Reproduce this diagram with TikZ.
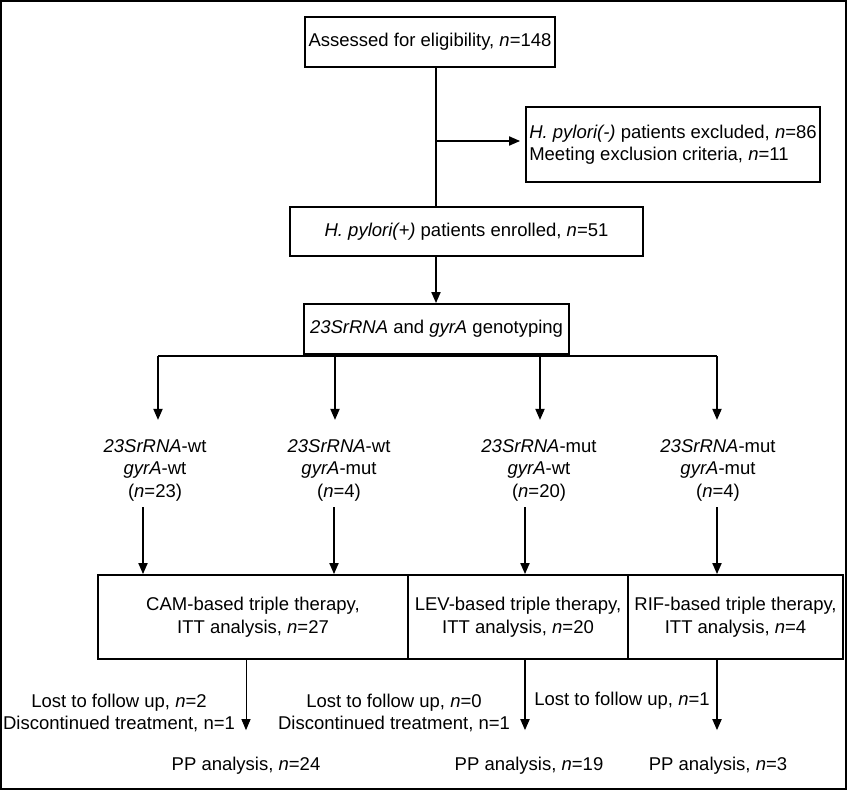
\documentclass[tikz,border=0pt]{standalone}
\usepackage{fontspec}
\setmainfont{Liberation Sans}
\usetikzlibrary{positioning,calc,arrows.meta}
\tikzset{font=\fontsize{18.5}{22.5}\selectfont}
\tikzset{box/.style={draw, line width=1.8pt, inner sep=0pt, align=center},
	line/.style={line width=1.8pt},
	arr/.style={line width=1.8pt, -{Triangle[length=11pt,width=9pt]}}}

\begin{document}
\begin{tikzpicture}[x=1pt,y=-1pt]
	\useasboundingbox (0,0) rectangle (847,790);
	\draw[line width=1.6pt] (0.8,0.8) rectangle (846.2,789.2);
	\begin{scope}
		\tikzstyle{every node}=[align=center, inner sep=1pt]
		\node[box, minimum width=250pt, minimum height=50pt] (assess) at (430,42) {Assessed for eligibility, \textit{n}=148};
		\node[box, align=left, minimum width=294pt, minimum height=75pt] (excl) at (673,144.5) {\textit{H. pylori(-)} patients excluded, \textit{n}=86\\Meeting exclusion criteria, \textit{n}=11};
		\node[box, minimum width=353pt, minimum height=49pt] (enrol) at (466.5,231.5) {\textit{H. pylori(+)} patients enrolled, \textit{n}=51};
		\node[box, minimum width=265pt, minimum height=50pt] (geno) at (436.5,329) {\textit{23SrRNA} and \textit{gyrA} genotyping};

		\node (g1) at (155,470) {\textit{23SrRNA}-wt\\\textit{gyrA}-wt\\(\textit{n}=23)};
		\node (g2) at (339,470) {\textit{23SrRNA}-wt\\\textit{gyrA}-mut\\(\textit{n}=4)};
		\node (g3) at (539,470) {\textit{23SrRNA}-mut\\\textit{gyrA}-wt\\(\textit{n}=20)};
		\node (g4) at (718,470) {\textit{23SrRNA}-mut\\\textit{gyrA}-mut\\(\textit{n}=4)};

		\node[box, minimum width=310pt, minimum height=84pt] (cam) at (253,617) {CAM-based triple therapy,\\ITT analysis, \textit{n}=27};
		\node[box, minimum width=220pt, minimum height=84pt] (lev) at (518,617) {LEV-based triple therapy,\\ITT analysis, \textit{n}=20};
		\node[box, minimum width=215pt, minimum height=84pt] (rif) at (735.5,617) {RIF-based triple therapy,\\ITT analysis, \textit{n}=4};

		\node (lost1) at (119,713) {Lost to follow up, \textit{n}=2\\Discontinued treatment, n=1};
		\node (lost2) at (394,713) {Lost to follow up, \textit{n}=0\\Discontinued treatment, n=1};
		\node (lost3) at (622,701) {Lost to follow up, \textit{n}=1};

		\node (pp1) at (246,766) {PP analysis, \textit{n}=24};
		\node (pp2) at (529,766) {PP analysis, \textit{n}=19};
		\node (pp3) at (718,766) {PP analysis, \textit{n}=3};

		% trunk
		\coordinate (split) at (436,141);
		\draw[line] (assess.south -| split) -- (split) -- (enrol.north -| split);
		\draw[arr, shorten >=5pt] (split) -- (split -| excl.west);
		\draw[arr] (enrol.south -| split) -- (geno.north -| split);

		% genotype groups
		\coordinate (b1) at (158,356);
		\coordinate (b2) at (335,356);
		\coordinate (b3) at (540,356);
		\coordinate (b4) at (717,356);
		\draw[line] (b1) -- (b4);
		\foreach \i in {1,...,4}
			\draw[arr, shorten >=18pt] (b\i) -- (b\i |- g\i.north);

		\coordinate (d1) at (143,507);
		\coordinate (d2) at (334,507);
		\coordinate (d3) at (525,507);
		\coordinate (d4) at (717,507);
		\draw[arr] (d1) -- (d1 |- cam.north);
		\draw[arr] (d2) -- (d2 |- cam.north);
		\draw[arr] (d3) -- (d3 |- lev.north);
		\draw[arr] (d4) -- (d4 |- rif.north);

		% per protocol
		\draw[arr, line width=1pt, shorten >=26pt] (cam.south -| pp1) -- (pp1.north);
		\draw[arr, shorten >=26pt] (lev.south -| d3) -- (d3 |- pp2.north);
		\draw[arr, shorten >=26pt] (rif.south -| d4) -- (d4 |- pp3.north);
	\end{scope}
\end{tikzpicture}
\end{document}
